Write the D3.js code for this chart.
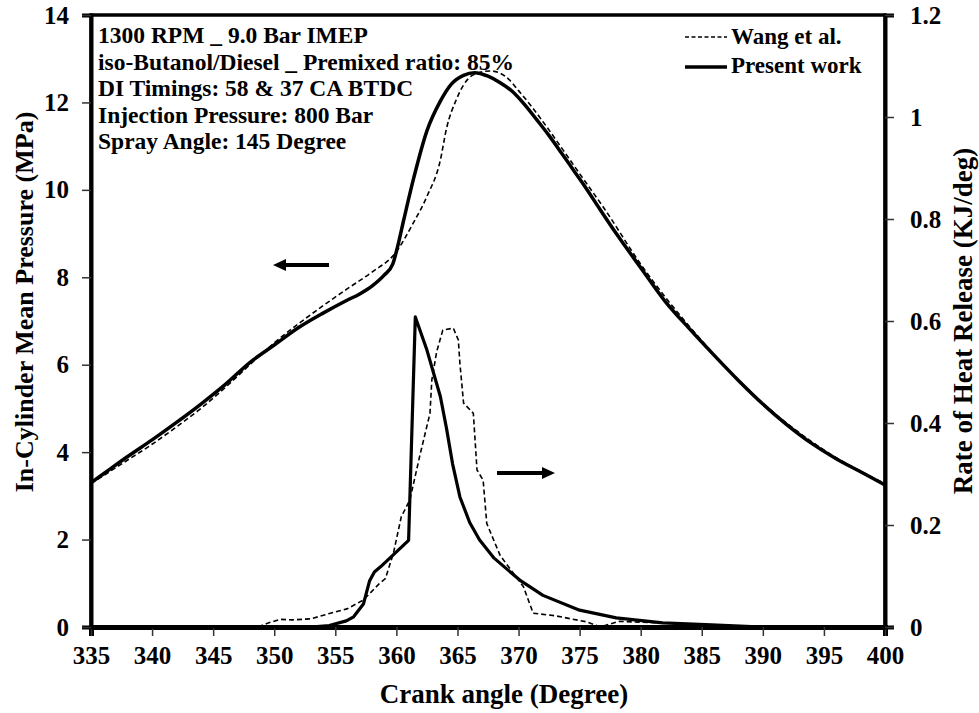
<!DOCTYPE html>
<html>
<head>
<meta charset="utf-8">
<script src="https://cdn.jsdelivr.net/npm/d3@7"></script>
<style>
  body { margin: 0; background: #fff; }
  svg text { font-family: "Liberation Serif", "Times New Roman", serif; font-weight: bold; fill: #000; white-space: pre; }
</style>
</head>
<body>
<svg id="vis" width="979" height="713"></svg>
<script>
// in-cylinder pressure (MPa) vs crank angle
const presentPressure = [
  [335, 3.30], [336, 3.50], [338, 3.90], [340, 4.28], [342, 4.68], [344, 5.10],
  [346, 5.55], [348, 6.05], [350, 6.45], [352, 6.85], [354, 7.18], [356, 7.48],
  [357, 7.62], [358, 7.80], [359, 8.05], [359.7, 8.30], [360.1, 8.70], [360.6, 9.31],
  [361.4, 10.25], [362.5, 11.35], [363.6, 12.03], [364.5, 12.42], [365.5, 12.62],
  [366.4, 12.68], [367.5, 12.6], [368.5, 12.45], [369.5, 12.25], [370.5, 11.95],
  [371.5, 11.6], [372.5, 11.24], [373.5, 10.85], [374.5, 10.45], [375.5, 10.05],
  [376.7, 9.54], [378, 9.0], [380, 8.22], [382, 7.45], [384, 6.82], [386, 6.22],
  [388, 5.64], [390, 5.1], [392, 4.62], [394, 4.2], [396, 3.85], [398, 3.55], [400, 3.25]
];
const wangPressure = [
  [335, 3.28], [338, 3.82], [340, 4.18], [342, 4.58], [344, 5.0], [346, 5.48],
  [348, 6.0], [350, 6.50], [352, 6.94], [354, 7.35], [356, 7.74], [358, 8.12],
  [359.9, 8.55], [361.4, 9.25], [362.5, 9.85], [363.6, 10.68], [364.1, 11.4],
  [364.9, 12.06], [365.5, 12.4], [366.3, 12.63], [367.7, 12.72], [369, 12.58],
  [370, 12.27], [371, 11.93], [372, 11.56], [373, 11.17], [374, 10.77], [375, 10.37],
  [377, 9.58], [380, 8.3], [385, 6.55], [390, 5.12], [395, 4.05], [400, 3.28]
];

// rate of heat release (KJ/deg) vs crank angle
const presentHRR = [
  [335, 0], [353, 0], [354.5, 0.003], [355.9, 0.012], [356.5, 0.02], [357.3, 0.045],
  [357.8, 0.09], [358.2, 0.108], [358.7, 0.118], [361.0, 0.17], [361.55, 0.608],
  [362.5, 0.543], [363.6, 0.452], [364.1, 0.39], [364.6, 0.32], [365.2, 0.255],
  [366, 0.205], [366.8, 0.171], [368, 0.135], [370.1, 0.092], [372, 0.062],
  [375, 0.033], [378, 0.018], [381.8, 0.008], [385.8, 0.004], [390, 0]
];
const wangHRR = [
  [348.7, 0], [349.5, 0.008], [350.5, 0.015], [351.5, 0.014], [353, 0.016],
  [354.6, 0.027], [356, 0.036], [357.3, 0.053], [358.6, 0.085], [359.1, 0.095],
  [359.75, 0.144], [360.4, 0.216], [361.1, 0.249], [361.9, 0.334], [362.75, 0.419],
  [362.9, 0.484], [363.3, 0.54], [363.8, 0.582], [364.66, 0.586], [365.07, 0.563],
  [365.2, 0.517], [365.5, 0.439], [366.3, 0.419], [366.6, 0.308], [367.1, 0.288],
  [367.4, 0.203], [368.5, 0.14], [370.4, 0.079], [371.2, 0.027], [373, 0.022],
  [375.6, 0.01], [376.7, 0], [378.2, 0.011], [381.8, 0.008], [385.8, 0.004], [390, 0]
];

const xTicks = d3.range(335, 401, 5);
const leftTicks = d3.range(0, 15, 2);
const rightTicks = [0, 0.2, 0.4, 0.6, 0.8, 1, 1.2];

const notes = [
  "1300 RPM _ 9.0 Bar IMEP",
  "iso-Butanol/Diesel _ Premixed ratio: 85%",
  "DI Timings: 58 & 37 CA BTDC",
  "Injection Pressure: 800 Bar",
  "Spray Angle: 145 Degree"
];
const legendItems = ["Wang et al.", "Present work"];

const svg = d3.select("svg#vis");
const plot = { left: 91, right: 885, top: 15, bottom: 627 };

const x = d3.scaleLinear().domain([335, 400]).range([plot.left, plot.right]);
const yP = d3.scaleLinear().domain([0, 14]).range([plot.bottom, plot.top]);
const yH = d3.scaleLinear().domain([0, 1.2]).range([plot.bottom, plot.top]);

// frame
svg.append("rect")
  .attr("x", plot.left).attr("y", plot.top)
  .attr("width", plot.right - plot.left).attr("height", plot.bottom - plot.top)
  .attr("fill", "none").attr("stroke", "#000").attr("stroke-width", 3.5);

// axes
const gx = svg.append("g")
  .attr("transform", translate(0, plot.bottom))
  .call(d3.axisBottom(x).tickValues(xTicks).tickSize(9).tickPadding(10).tickFormat(d3.format("d")));
const gl = svg.append("g")
  .attr("transform", translate(plot.left, 0))
  .call(d3.axisLeft(yP).tickValues(leftTicks).tickSize(9).tickPadding(13).tickFormat(d3.format("d")));
const gr = svg.append("g")
  .attr("transform", translate(plot.right, 0))
  .call(d3.axisRight(yH).tickValues(rightTicks).tickSize(9).tickPadding(16)
    .tickFormat(d => String(+d.toFixed(1))));

[gx, gl, gr].forEach(function(g) {
  g.selectAll("text").style("font-size", "25px").attr("fill", "#000");
  g.selectAll(".tick line").attr("stroke", "#333").attr("stroke-width", 1.5);
  g.select(".domain").attr("stroke", "#000").attr("stroke-width", 4);
});
gx.select(".domain").attr("stroke-width", 5);

// curves
const smooth = d3.line().x(d => x(d[0])).y(d => yP(d[1])).curve(d3.curveMonotoneX);
const sharp = d3.line().x(d => x(d[0])).y(d => yH(d[1]));

svg.append("path").datum(wangPressure).attr("d", smooth)
  .attr("fill", "none").attr("stroke", "#000").attr("stroke-width", 1.6).attr("stroke-dasharray", "5,3");
svg.append("path").datum(presentPressure).attr("d", smooth)
  .attr("fill", "none").attr("stroke", "#000").attr("stroke-width", 3.5);
svg.append("path").datum(wangHRR).attr("d", sharp)
  .attr("fill", "none").attr("stroke", "#000").attr("stroke-width", 1.6).attr("stroke-dasharray", "5,3");
svg.append("path").datum(presentHRR).attr("d", sharp)
  .attr("fill", "none").attr("stroke", "#000").attr("stroke-width", 3.2).attr("stroke-linejoin", "round");

// arrows pointing at the axis each curve belongs to
drawArrow(329, 265, 273, 265);
drawArrow(497, 473, 555, 473);

// annotation block
svg.append("g").selectAll("text")
  .data(notes)
  .enter()
  .append("text")
  .attr("x", 98)
  .attr("y", (d, i) => 43 + i * 26.5)
  .style("font-size", "23.5px")
  .text(d => d);

// legend
const legend = svg.append("g");
legend.selectAll("line")
  .data(legendItems)
  .enter()
  .append("line")
  .attr("x1", 685).attr("x2", 727)
  .attr("y1", (d, i) => 37 + i * 30).attr("y2", (d, i) => 37 + i * 30)
  .attr("stroke", "#000")
  .attr("stroke-width", (d, i) => i === 0 ? 1.6 : 3.5)
  .attr("stroke-dasharray", (d, i) => i === 0 ? "4,2.5" : null);
legend.selectAll("text")
  .data(legendItems)
  .enter()
  .append("text")
  .attr("x", 731)
  .attr("y", (d, i) => 44 + i * 29)
  .style("font-size", "23px")
  .text(d => d);

// axis titles
svg.append("text")
  .attr("transform", translate(33, 302) + " rotate(-90)")
  .attr("text-anchor", "middle")
  .style("font-size", "26px")
  .text("In-Cylinder Mean Pressure (MPa)");
svg.append("text")
  .attr("transform", translate(972, 321) + " rotate(-90)")
  .attr("text-anchor", "middle")
  .style("font-size", "27px")
  .text("Rate of Heat Release (KJ/deg)");
svg.append("text")
  .attr("x", 504)
  .attr("y", 703)
  .attr("text-anchor", "middle")
  .style("font-size", "27px")
  .text("Crank angle (Degree)");

function drawArrow(x1, y1, x2, y2) {
  const dir = Math.sign(x2 - x1);
  svg.append("line")
    .attr("x1", x1).attr("y1", y1).attr("x2", x2 - dir * 10).attr("y2", y2)
    .attr("stroke", "#000").attr("stroke-width", 4);
  svg.append("path")
    .attr("d", "M" + x2 + "," + y2 + " L" + (x2 - dir * 13) + "," + (y2 - 6) + " L" + (x2 - dir * 13) + "," + (y2 + 6) + " Z")
    .attr("fill", "#000");
}

function translate(x, y) {
  return "translate(" + String(x) + "," + String(y) + ")";
}
</script>
</body>
</html>
